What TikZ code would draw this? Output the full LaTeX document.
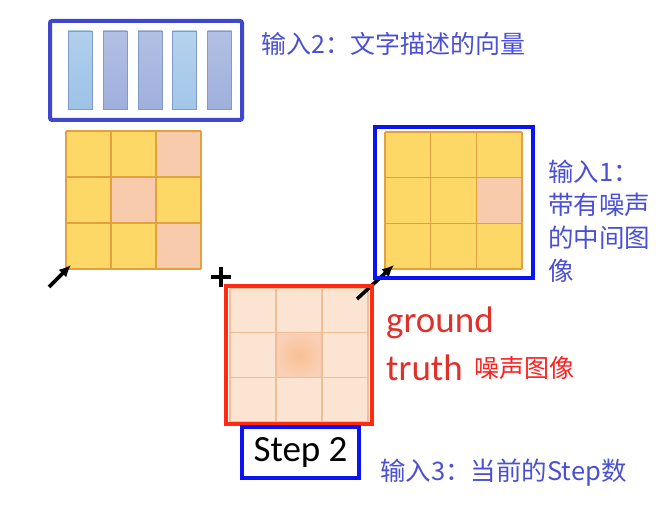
\documentclass[tikz,border=0pt]{standalone}
\usepackage{fontspec}
\setmainfont{Carlito}
\newfontfamily\cjk{Noto Sans CJK SC}
\usetikzlibrary{arrows.meta}
\definecolor{boxpurple}{HTML}{3F48CC}
\definecolor{boxblue}{HTML}{0A14F0}
\definecolor{boxred}{HTML}{FF2A12}
\definecolor{txtblue}{HTML}{4A4FD4}
\definecolor{txtred}{HTML}{E0302C}
\definecolor{cjkred}{HTML}{FF1F1F}
\definecolor{cyel}{HTML}{FED866}
\definecolor{cpink}{HTML}{F8CBAD}
\definecolor{cpale}{HTML}{FCE4D3}
\definecolor{gline}{HTML}{E3A03E}
\definecolor{pline}{HTML}{F0BE96}
\definecolor{barA}{HTML}{9DC3E6}
\definecolor{barB}{HTML}{9FB0DD}
\definecolor{barC}{HTML}{A3C6E9}
\definecolor{barline}{HTML}{7F9ACB}
\begin{document}
\begin{tikzpicture}[x=1pt,y=-1pt,
  framebox/.style={draw,line width=4pt,inner sep=0pt,fill=none},
  bar/.style={draw=barline,line width=0.8pt,inner sep=0pt,minimum width=24pt,minimum height=78pt},
  arr/.style={line width=3.6pt,-{Latex[length=12pt,width=11pt]}},
  cjktxt/.style={font=\cjk\fontsize{25}{32}\selectfont,inner sep=0pt},
]
\useasboundingbox (0,0) rectangle (656,529);

% ---------- top text-vector box ----------
\node[framebox,draw=boxpurple,rounded corners=2pt,minimum width=192pt,minimum height=99pt] (vecbox) at (146,70.5) {};
\node[bar,top color=barA!80!white,bottom color=barA] (b1) at (80,70) {};
\node[bar,top color=barB!80!white,bottom color=barB] (b2) at (115,70) {};
\node[bar,top color=barB!80!white,bottom color=barB] (b3) at (150,70) {};
\node[bar,top color=barC!80!white,bottom color=barC] (b4) at (184.5,70) {};
\node[bar,top color=barB!80!white,bottom color=barB] (b5) at (219.5,70) {};

% ---------- left grid ----------
\begin{scope}[shift={(66,131)}]
  \foreach \r/\c/\col in {0/0/cyel,0/1/cyel,0/2/cpink,1/0/cyel,1/1/cpink,1/2/cyel,2/0/cyel,2/1/cyel,2/2/cpink}
    \fill[\col] (\c*45,\r*46) rectangle ++(45,46);
  \foreach \i in {0,1,2,3} {
    \draw[gline,line width=1.2pt] (\i*45,0) -- (\i*45,138);
    \draw[gline,line width=1.2pt] (0,\i*46) -- (135,\i*46);
  }
\end{scope}
\node[inner sep=0pt,minimum width=135pt,minimum height=138pt] (gleft) at (133.5,200) {};

% ---------- plus ----------
\draw[line width=4.5pt] (211,277) -- (231,277);
\draw[line width=4.5pt] (221,267) -- (221,287);

% ---------- right grid ----------
\begin{scope}[shift={(385,132)}]
  \foreach \r/\c/\col in {0/0/cyel,0/1/cyel,0/2/cyel,1/0/cyel,1/1/cyel,1/2/cpink,2/0/cyel,2/1/cyel,2/2/cyel}
    \fill[\col] (\c*45.67,\r*45.67) rectangle ++(45.67,45.67);
  \foreach \i in {0,1,2,3} {
    \draw[gline,line width=1.2pt] (\i*45.67,0) -- (\i*45.67,137);
    \draw[gline,line width=1.2pt] (0,\i*45.67) -- (137,\i*45.67);
  }
\end{scope}

% ---------- red noise grid ----------
\begin{scope}[shift={(230,288)}]
  \foreach \r/\c/\col in {0/0/cpale,0/1/cpale,0/2/cpale,1/0/cpale,1/2/cpale,2/0/cpale,2/1/cpale,2/2/cpale}
    \fill[\col] (\c*46,\r*44.67) rectangle ++(46,44.67);
  \shade[inner color=cpink!85!orange,outer color=cpink!80!cpale] (46,44.67) rectangle ++(46,44.67);
  \foreach \i in {0,1,2,3} {
    \draw[pline,line width=1.1pt] (\i*46,0) -- (\i*46,134);
    \draw[pline,line width=1.1pt] (0,\i*44.67) -- (138,\i*44.67);
  }
\end{scope}

% ---------- arrows ----------
\coordinate (a1s) at (49,287);
\coordinate (a1e) at (71,265);
\coordinate (a2s) at (357,299);
\coordinate (a2e) at (394,265);
\draw[arr] (a1s) -- (a1e);
\draw[arr] (a2s) -- (a2e);

% ---------- frames ----------
\node[framebox,draw=boxblue,minimum width=158pt,minimum height=151pt] (rightbox) at (454,202.5) {};
\node[framebox,draw=boxred,minimum width=146pt,minimum height=138pt] (redbox) at (299,355) {};

% ---------- step box ----------
\node[framebox,draw=boxblue,minimum width=117pt,minimum height=51pt,font=\fontsize{37}{40}\selectfont] (stepbox) at (300.5,452.5) {Step 2};

% ---------- labels ----------
\node[cjktxt,text=txtblue,anchor=west] (lab2) at (261,44) {输入2：文字描述的向量};
\node[cjktxt,text=txtblue,anchor=north west,align=left,font=\cjk\fontsize{25.5}{33}\selectfont] (lab1) at (548,160) {输入1：\\带有噪声\\的中间图\\像};
\node[inner sep=0pt,anchor=base west,text=txtred,font=\fontsize{37}{40}\selectfont] (gt1) at (386,333) {ground};
\node[inner sep=0pt,anchor=base west,text=txtred,font=\fontsize{37}{40}\selectfont] (gt2) at (386,380) {truth};
\node[cjktxt,text=cjkred,anchor=west] (labn) at (474,368) {噪声图像};
\node[cjktxt,text=txtblue,anchor=west,font=\cjk\fontsize{25.5}{32}\selectfont] (lab3) at (380,473) {输入3：当前的Step数};
\end{tikzpicture}
\end{document}
